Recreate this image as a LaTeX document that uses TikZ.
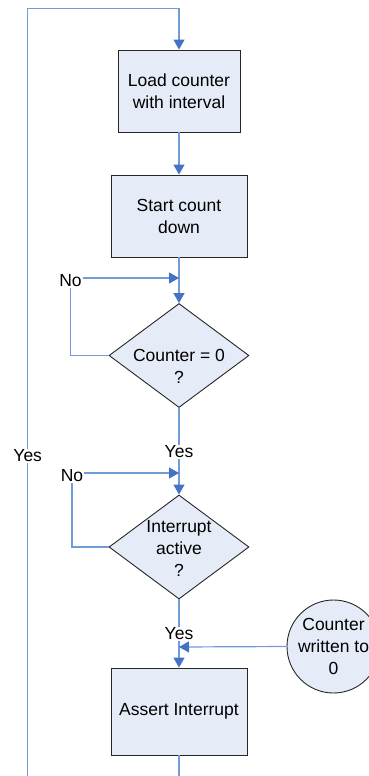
\documentclass[tikz,border=0pt]{standalone}
\usepackage{fontspec}
\setmainfont{Liberation Sans}
\usetikzlibrary{shapes.geometric,arrows.meta}
\definecolor{lineblue}{RGB}{112,156,218}
\definecolor{tipblue}{RGB}{68,114,196}
\definecolor{boxfill}{RGB}{230,236,247}
\tikzset{
  every node/.style={font=\fontsize{17.5}{22}\selectfont},
  stepbox/.style={draw=black!85, line width=0.9pt, fill=boxfill, inner sep=0pt, align=center},
  decbox/.style={draw=black!85, line width=0.9pt, fill=boxfill, diamond, inner sep=0pt, minimum width=140pt, minimum height=104pt},
  roundbox/.style={draw=black!85, line width=0.9pt, fill=boxfill, circle, inner sep=0pt, minimum size=93pt, align=center},
  conn/.style={draw=lineblue, line width=1.2pt},
  arr/.style={conn, -{Triangle[width=11pt,length=10pt,fill=tipblue,color=tipblue]}},
  lbl/.style={fill=white, inner sep=1pt}
}
\begin{document}
\begin{tikzpicture}[x=1pt,y=-1pt]
\useasboundingbox (0,0) rectangle (369,776);
\clip (0,0) rectangle (369,776);
% nodes
\node[stepbox, minimum width=122pt, minimum height=82pt] (b1) at (179,91) {Load counter\\with interval};
\node[stepbox, minimum width=136pt, minimum height=82pt] (b2) at (179,216) {Start count\\down};
\node[decbox] (d1) at (179,355.5) {};
\node[align=center, inner sep=0pt] (d1t) at (179,366.5) {Counter = 0\\?};
\node[decbox] (d2) at (179,547) {};
\node[align=center, inner sep=0pt] (d2t) at (179,548) {Interrupt\\active\\?};
\node[stepbox, minimum width=136pt, minimum height=87pt] (b3) at (179,711.5) {Assert Interrupt};
\node[roundbox] (c1) at (333.5,646.5) {Counter\\written to\\0};
% coordinates
\coordinate (top) at (179,8.3);
\coordinate (topl) at (27.7,8.3);
\coordinate (botl) at (27.7,800);
\coordinate (bot) at (179,800);
\coordinate (n1) at (179,278);
\coordinate (n1l) at (70.5,278);
\coordinate (n2) at (179,473);
\coordinate (n2l) at (72,473);
\coordinate (m3) at (179,647);
% connectors
\draw[arr] (b3.south) -- (bot) -- (botl) -- (topl) -- (top) -- (b1.north);
\draw[arr] (b1.south) -- (b2.north);
\draw[arr] (b2.south) -- (d1.north);
\draw[arr] (d1.west) -| (n1l) -- (n1);
\draw[arr] (d1.south) -- (d2.north);
\draw[arr] (d2.west) -| (n2l) -- (n2);
\draw[arr] (d2.south) -- (b3.north);
\draw[arr] (c1.west) -- (m3);
% labels
\node[lbl] (no1) at (70.5,281) {No};
\node[lbl] (no2) at (72,476) {No};
\node[lbl] (yes1) at (179,452) {Yes};
\node[lbl] (yes2) at (27.7,456) {Yes};
\node[lbl] (yes3) at (179,634) {Yes};
\end{tikzpicture}
\end{document}
